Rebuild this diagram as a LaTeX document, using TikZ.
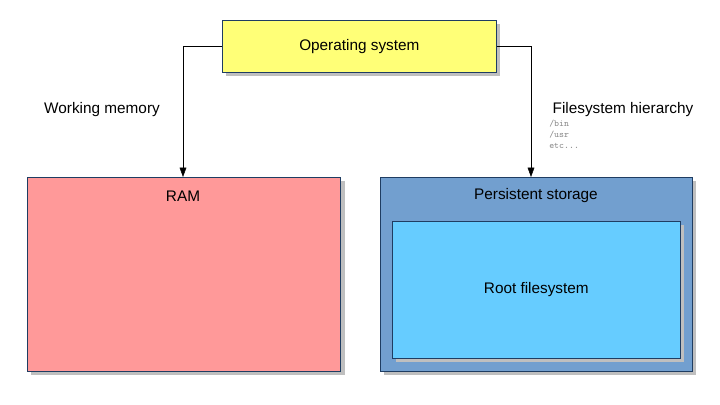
\documentclass[tikz,border=0pt]{standalone}
\usepackage{fontspec}
\setmainfont{Liberation Sans}
\usetikzlibrary{positioning,shadows,arrows.meta}
\definecolor{osyellow}{HTML}{FFFF77}
\definecolor{ramred}{HTML}{FF9999}
\definecolor{storeblue}{HTML}{729FCF}
\definecolor{rootblue}{HTML}{66CCFF}
\definecolor{edgegray}{HTML}{3465A4}
\begin{document}
\begin{tikzpicture}[x=0.75pt,y=-0.75pt,
    box/.style={draw=edgegray!60!black, line width=0.5pt, anchor=north west, inner sep=0pt,
      drop shadow={shadow xshift=3pt, shadow yshift=-3pt, fill=black!25, opacity=1}},
    lbl/.style={font=\fontsize{11.5}{13}\selectfont},
    path/.style={font=\ttfamily\fontsize{7}{8}\selectfont, text=black!45, align=left, anchor=north west, inner sep=0pt},
    link/.style={draw, -{Triangle[length=7pt,width=5pt]}}
  ]
\useasboundingbox (0,0) rectangle (720,404);

% Boxes
\node[box, fill=osyellow, minimum width=205.5pt, minimum height=39pt] (os) at (222,20) {};
\node[lbl] at (os.center) {Operating system};
\node[box, fill=ramred, minimum width=235pt, minimum height=145.5pt] (ram) at (27,177) {};
\node[lbl] (ramtxt) at (183,196) {RAM};
\node[box, fill=storeblue, minimum width=234pt, minimum height=145.5pt] (store) at (380,177) {};
\node[lbl] (storetxt) at (536,196) {Persistent storage};
\node[box, fill=rootblue, minimum width=216pt, minimum height=102.75pt] (root) at (392,221) {};
\node[lbl] at (root.center) {Root filesystem};

% Connectors
\coordinate (ramtop) at (183,177);
\coordinate (storetop) at (531,177);
\draw[link] (os.west) -| (ramtop);
\draw[link] (os.east) -| (storetop);

% Labels
\node[lbl] (work) at (102,110) {Working memory};
\node[lbl] (fsh) at (623,110) {Filesystem hierarchy};
\node[path] (dirs) at (549,120) {/bin\\/usr\\etc...};
\end{tikzpicture}
\end{document}
